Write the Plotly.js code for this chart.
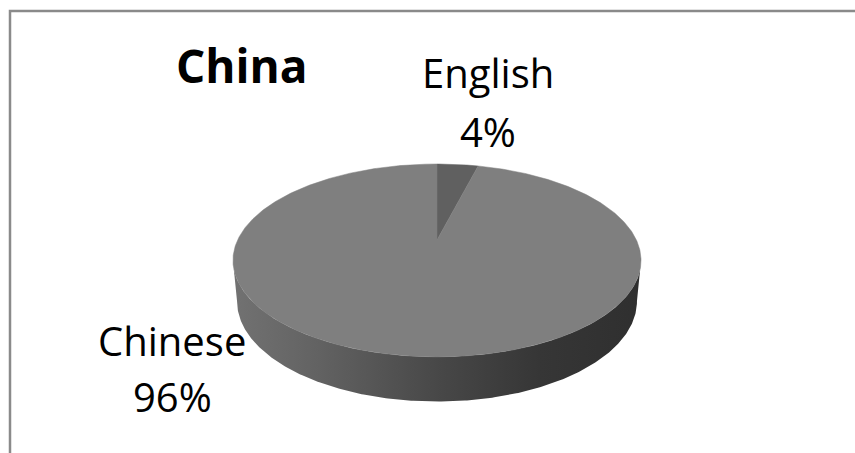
<!DOCTYPE html>
<html><head><meta charset="utf-8">
<script src="https://cdn.plot.ly/plotly-3.0.1.min.js"></script>
<style>html,body{margin:0;padding:0;background:#fff;overflow:hidden}</style>
</head><body><div id="chart" style="width:855px;height:453px"></div>
<script>
const chartTitle = 'China';
const languages = ['English', 'Chinese'];
const shares = [4, 96];
const sliceColors = ['#606060', '#7f7f7f'];
const sideScale = [[0, '#727272'], [0.2, '#636363'], [0.5, '#484848'], [0.75, '#363636'], [1, '#2f2f2f']];

// projected 3D pie geometry in pixel space
const CX = 437, CY = 240, A = 199.4, K = 92.1, E = 0.212, DEPTH = 40, BOT_SX = 0.98, BOT_SY = 1.04;

function proj(theta, bottom) {
  const t = theta * Math.PI / 180, u = Math.sin(t), v = Math.cos(t), w = 1 + E * v;
  if (!bottom) return [CX + A * u / w, CY - K * v / w];
  return [CX + A * BOT_SX * u / w, CY + DEPTH - K * BOT_SY * v / w];
}
function arc(a0, a1, bottom) {
  const n = Math.max(2, Math.ceil(Math.abs(a1 - a0) / 0.5));
  const pts = [];
  for (let i = 0; i <= n; i++) pts.push(proj(a0 + (a1 - a0) * i / n, bottom));
  return pts;
}

const total = shares.reduce((s, v) => s + v, 0);
const frontL = Math.acos(-E) * 180 / Math.PI, frontR = 360 - frontL;
const sides = [], tops = [];
let start = 0;
shares.forEach((v, i) => {
  const a0 = start, a1 = start + v / total * 360;
  start = a1;
  // top face
  const tp = [[CX, CY]].concat(arc(a0, a1, false));
  tp.push([CX, CY]);
  tops.push({
    type: 'scatter', mode: 'lines', x: tp.map(p => p[0]), y: tp.map(p => p[1]),
    fill: 'toself', fillcolor: sliceColors[i], line: {width: 0.5, color: sliceColors[i]},
    hoverinfo: 'skip', showlegend: false
  });
  // visible side
  const s0 = Math.max(a0, frontL), s1 = Math.min(a1, frontR);
  if (s1 > s0) {
    const sp = arc(s0, s1, false).concat(arc(s1, s0, true));
    sp.push(sp[0]);
    sides.push({
      type: 'scatter', mode: 'lines', x: sp.map(p => p[0]), y: sp.map(p => p[1]),
      fill: 'toself', line: {width: 0},
      fillgradient: {type: 'horizontal', colorscale: sideScale, start: CX - A * 1.03, stop: CX + A * 1.03},
      hoverinfo: 'skip', showlegend: false
    });
  }
});

const labelFont = {family: 'Open Sans', size: 40, color: '#000'};
const labelPos = [[488, 72.5, 131.5], [172, 340.5, 396.5]];
const annotations = [{
  text: '<b>' + chartTitle + '</b>', x: 241.5, y: 65, xref: 'x', yref: 'y', showarrow: false,
  font: {family: 'Open Sans', size: 46, color: '#000'}, xanchor: 'center', yanchor: 'middle'
}];
languages.forEach((lab, i) => {
  const pct = Math.round(shares[i] / total * 100) + '%';
  annotations.push({text: lab, x: labelPos[i][0], y: labelPos[i][1], xref: 'x', yref: 'y', showarrow: false, font: labelFont, xanchor: 'center', yanchor: 'middle'});
  annotations.push({text: pct, x: labelPos[i][0], y: labelPos[i][2], xref: 'x', yref: 'y', showarrow: false, font: labelFont, xanchor: 'center', yanchor: 'middle'});
});

const layout = {
  width: 855, height: 453, margin: {l: 0, r: 0, t: 0, b: 0},
  paper_bgcolor: '#fff', plot_bgcolor: '#fff',
  xaxis: {range: [0, 855], visible: false, fixedrange: true},
  yaxis: {range: [453, 0], visible: false, fixedrange: true},
  shapes: [{type: 'path', xref: 'x', yref: 'y', path: 'M10,470 L10,11 L870,11', line: {color: '#8a8a8a', width: 2.5}}],
  annotations: annotations,
  showlegend: false
};
Plotly.newPlot('chart', sides.concat(tops), layout, {displayModeBar: false, staticPlot: true});
</script></body></html>
